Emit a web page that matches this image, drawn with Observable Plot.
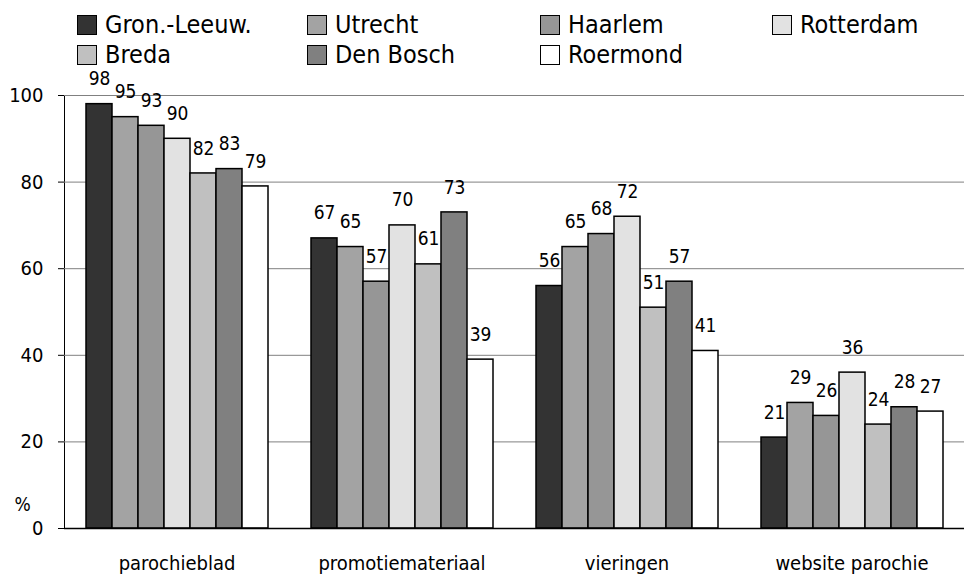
<!DOCTYPE html>
<html><head><meta charset="utf-8">
<script src="https://cdn.jsdelivr.net/npm/d3@7"></script>
<script src="https://cdn.jsdelivr.net/npm/@observablehq/plot@0.6"></script>
<style>
body{margin:0;background:#fff;font-family:"Liberation Sans Narrow","DejaVu Sans Condensed",sans-serif;}
#legend{position:relative;height:60px;width:965px;}
.item{position:absolute;display:flex;align-items:center;font-size:25px;line-height:30px;height:30px;color:#000;white-space:nowrap}
.sw{width:20px;height:20px;border:1.5px solid #000;margin-right:8px;box-sizing:border-box;flex:none}
#chart svg{overflow:visible}
</style></head><body>
<div id="legend"></div><div id="chart"></div>
<script>
const categories = ["parochieblad", "promotiemateriaal", "vieringen", "website parochie"];
const regions = ["Gron.-Leeuw.", "Utrecht", "Haarlem", "Rotterdam", "Breda", "Den Bosch", "Roermond"];
const colors = ["#333333", "#a3a3a3", "#969696", "#e2e2e2", "#c0c0c0", "#808080", "#ffffff"];
const gronLeeuw = [98, 67, 56, 21];
const utrecht = [95, 65, 65, 29];
const haarlem = [93, 57, 68, 26];
const rotterdam = [90, 70, 72, 36];
const breda = [82, 61, 51, 24];
const denBosch = [83, 73, 57, 28];
const roermond = [79, 39, 41, 27];
const yTicks = [0, 20, 40, 60, 80, 100];

const series = [gronLeeuw, utrecht, haarlem, rotterdam, breda, denBosch, roermond];
const data = [];
regions.forEach((r, j) => categories.forEach((c, i) => data.push({category: c, region: r, value: series[j][i]})));

// legend
const legend = document.getElementById("legend");
const colX = [77, 307, 540, 772];
const rowY = [10, 40];
regions.forEach((r, i) => {
  const it = document.createElement("div");
  it.className = "item";
  it.style.left = colX[i % 4] + "px";
  it.style.top = rowY[Math.floor(i / 4)] + "px";
  const sw = document.createElement("span");
  sw.className = "sw";
  sw.style.background = colors[i];
  const t = document.createElement("span");
  t.textContent = r;
  it.appendChild(sw); it.appendChild(t);
  legend.appendChild(it);
});

const font = '"Liberation Sans Narrow","DejaVu Sans Condensed",sans-serif';
const chart = Plot.plot({
  width: 965, height: 516,
  marginTop: 35, marginBottom: 48, marginLeft: 63, marginRight: 0,
  style: {fontFamily: font, fontSize: "20px", background: "#fff", color: "#000", overflow: "visible"},
  fx: {domain: categories, padding: 0, label: null, tickSize: 0, tickPadding: 27, axis: "bottom", fontSize: 18},
  x: {domain: regions, paddingInner: 0, paddingOuter: 0.7, axis: null},
  y: {domain: [0, 100], ticks: yTicks, tickSize: 6, tickPadding: 15, label: null, line: true, fontSize: 20},
  color: {domain: regions, range: colors},
  marks: [
    Plot.ruleY(yTicks.filter(d => d > 0), {stroke: "#808080", strokeWidth: 1}),
    Plot.barY(data, {fx: "category", x: "region", y: "value", fill: "region", stroke: "#000", strokeWidth: 1.5}),
    Plot.ruleY([0], {stroke: "#000", strokeWidth: 1.5}),
    Plot.text(data, {fx: "category", x: "region", y: "value", text: "value", dy: -25, fontSize: 19}),
    Plot.text([{category: categories[0], t: "%"}], {fx: "category", frameAnchor: "bottom-left", text: "t", dx: -50, dy: -18, fontSize: 19})
  ]
});
document.getElementById("chart").appendChild(chart);
</script>
</body></html>
